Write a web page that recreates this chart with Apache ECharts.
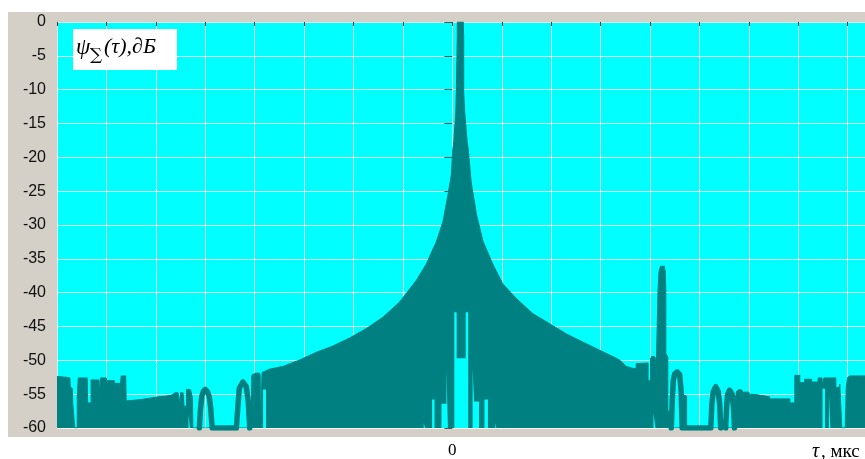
<!DOCTYPE html>
<html>
<head>
<meta charset="utf-8">
<script src="https://cdn.jsdelivr.net/npm/echarts@6/dist/echarts.min.js"></script>
<style>
html,body{margin:0;padding:0;background:#fff;}
#c{width:865px;height:459px;}
</style>
</head>
<body>
<div id="c"></div>
<script>
// ---- data (x in grid units, y in dB) ----
var yTicks = [0, -5, -10, -15, -20, -25, -30, -35, -40, -45, -50, -55, -60];
var xLabelZero = '0';
var yTitle = 'ψ';
var ySub = '∑';
var yTitleRest = '(τ),∂Б';
var xTitleSym = 'τ';
var xTitleRest = ', мкс';

// upper envelope of the dense response (teal fill)
var envelope = [
  [-8.00,-52.4],[-7.81,-52.5],[-7.74,-52.6],[-7.73,-53.9],[-7.69,-54.2],[-7.68,-56.5],[-7.64,-56.5],[-7.64,-60],[-7.59,-60],
  [-7.59,-55.3],[-7.57,-55.3],[-7.57,-52.6],[-7.39,-52.6],[-7.38,-56.3],[-7.31,-56.3],[-7.31,-52.9],[-7.15,-52.9],[-7.15,-55.3],
  [-7.12,-55.3],[-7.12,-52.6],[-7.00,-52.6],[-7.00,-54.0],[-6.98,-54.0],[-6.98,-53.0],[-6.84,-53.0],[-6.84,-53.4],[-6.73,-53.4],
  [-6.73,-55.0],[-6.70,-55.0],[-6.70,-52.3],[-6.61,-52.3],[-6.60,-56.0],[-6.45,-55.9],[-6.30,-55.8],[-6.13,-55.6],[-5.95,-55.4],
  [-5.80,-55.3],[-5.66,-55.1],[-5.62,-54.8],[-5.55,-54.8],[-5.52,-56.5],[-5.50,-54.8],[-5.45,-54.8],[-5.43,-56.8],[-5.38,-56.8],
  [-5.38,-54.3],[-5.30,-54.3],[-5.26,-55.5],[-5.25,-60],[-4.07,-60],
  [-4.06,-52.3],[-4.03,-52.0],[-4.02,-52.4],[-4.02,-60],[-4.00,-60],[-4.00,-51.9],[-3.90,-51.9],[-3.89,-52.2],[-3.88,-60],
  [-3.85,-60],[-3.85,-51.8],[-3.83,-51.7],[-3.70,-51.3],[-3.43,-50.9],[-3.09,-49.95],[-2.75,-48.8],[-2.42,-47.9],[-2.08,-46.7],
  [-1.74,-45.3],[-1.40,-43.6],[-1.07,-41.4],[-0.73,-38.2],[-0.53,-35.8],[-0.32,-32.4],[-0.19,-29.5],[-0.09,-25.6],[-0.02,-22.6],
  [0.01,-18.7],[0.03,-17.7],[0.07,-13.3],[0.08,-10.4],[0.10,-2.2],[0.10,0],[0.22,0],[0.23,-2.2],[0.23,-10.4],[0.25,-13.3],
  [0.30,-17.7],[0.32,-18.7],[0.38,-23.6],[0.49,-28.5],[0.62,-32.4],[0.82,-35.8],[1.02,-38.7],[1.30,-40.9],[1.63,-43.1],
  [1.97,-44.6],[2.31,-46.1],[2.64,-47.3],[2.98,-48.5],[3.32,-49.7],[3.39,-50.0],[3.52,-50.9],[3.66,-51.2],[3.72,-51.2],
  [3.72,-50.5],[3.96,-50.4],[3.96,-53.0],[4.01,-53.0],[4.01,-49.7],[4.04,-49.4],[4.10,-49.5],[4.12,-50.5],[4.12,-53.5],
  [4.16,-53.5],[4.16,-40.0],[4.18,-37.0],[4.21,-36.1],[4.25,-36.0],[4.29,-36.1],[4.31,-37.0],[4.32,-40.0],[4.32,-49.0],
  [4.36,-49.5],[4.36,-57.5],[4.43,-57.5],[4.43,-60],[4.65,-60],[4.65,-55.0],[4.74,-55.3],[4.74,-60],[5.72,-60],
  [5.73,-55.5],[5.75,-54.6],[5.80,-54.3],[5.86,-54.4],[5.88,-54.8],[5.88,-56.0],[5.89,-56.0],[5.89,-54.7],[6.00,-54.7],
  [6.02,-55.1],[6.02,-56.0],[6.04,-56.0],[6.04,-55.0],[6.18,-55.1],[6.20,-55.3],[6.42,-55.4],[6.42,-55.7],[6.83,-55.7],
  [6.83,-56.3],[6.93,-56.3],[6.93,-52.2],[7.03,-52.2],[7.03,-53.3],[7.13,-53.3],[7.13,-52.8],[7.27,-52.8],[7.27,-53.2],
  [7.40,-53.2],[7.40,-52.6],[7.48,-52.6],[7.48,-53.5],[7.52,-53.5],[7.52,-52.6],[7.76,-52.6],[7.76,-54.0],[7.84,-54.0],
  [7.84,-53.5],[7.88,-53.5],[7.88,-60],[7.95,-60],[7.97,-54.0],[8.00,-52.5],[8.05,-52.3],[8.35,-52.3]
];

// openings inside the fill (tops of the gaps, from the floor)
var gaps = [
  [-8.00,-60],
  [-5.34,-60],[-5.34,-58.0],[-5.31,-58.0],[-5.31,-60],
  [-3.83,-60],[-3.83,-54.3],[-3.77,-54.3],[-3.77,-60],
  [-0.58,-60],[-0.58,-59.3],[-0.55,-59.3],[-0.55,-60],
  [-0.41,-60],[-0.41,-55.8],[-0.36,-55.8],[-0.36,-60],
  [-0.22,-60],[-0.22,-56.4],[-0.12,-56.4],[-0.12,-51.4],[-0.09,-51.4],[-0.09,-60],
  [0.04,-60],[0.04,-42.9],[0.087,-42.9],[0.087,-49.7],[0.27,-49.7],[0.27,-42.9],[0.32,-42.9],[0.32,-60],
  [0.41,-60],[0.41,-51.2],[0.44,-51.2],[0.44,-56.1],[0.54,-56.1],[0.54,-60],
  [0.65,-60],[0.65,-55.8],[0.72,-55.8],[0.72,-60],
  [0.87,-60],[0.87,-59.3],[0.89,-59.3],[0.89,-60],
  [4.07,-60],[4.07,-57.8],[4.11,-57.8],[4.11,-60],
  [7.49,-60],[7.49,-54.2],[7.54,-54.2],[7.54,-60],
  [7.62,-60],[7.62,-55.0],[7.65,-55.0],[7.65,-60],
  [8.35,-60]
];

// isolated lobes drawn as thick strokes
var lobes = [
  [-5.12,-60],[-5.10,-57.5],[-5.07,-55.3],[-5.04,-54.6],[-5.00,-54.3],[-4.96,-54.6],[-4.92,-55.3],[-4.89,-57.0],[-4.86,-60],
  [-4.37,-60],[-4.34,-56.8],[-4.31,-54.1],[-4.24,-53.2],[-4.17,-53.9],[-4.13,-56.1],[-4.10,-60],
  null,
  [4.43,-60],[4.45,-56.0],[4.47,-53.0],[4.50,-52.0],[4.55,-51.7],[4.60,-52.1],[4.63,-54.6],[4.65,-60],
  [5.23,-60],[5.25,-56.5],[5.28,-54.6],[5.33,-53.9],[5.38,-54.6],[5.41,-56.5],[5.43,-60],
  null,
  [5.53,-60],[5.55,-57.0],[5.57,-55.0],[5.61,-54.4],[5.66,-55.0],[5.69,-57.0],[5.71,-60]
];

var TEAL = '#008080';
var CYAN = '#00FFFF';

var chart = echarts.init(document.getElementById('c'), null, {renderer: 'canvas'});
chart.setOption({
  animation: false,
  backgroundColor: '#ffffff',
  grid: {left: 57, right: 0, top: 22, bottom: 27, show: true, backgroundColor: CYAN, borderWidth: 0},
  xAxis: {
    type: 'value', min: -8, max: 8.35, interval: 1,
    axisLine: {show: false},
    axisTick: {show: true, length: 4, lineStyle: {color: '#333', width: 1}},
    axisLabel: {
      margin: 14, color: '#000', fontFamily: 'Liberation Serif', fontSize: 17, showMaxLabel: false,
      formatter: function (v) { return Math.abs(v) < 1e-9 ? xLabelZero : ''; }
    },
    splitLine: {show: true, lineStyle: {color: 'rgba(255,255,255,0.85)', width: 1}}
  },
  yAxis: {
    type: 'value', min: -60, max: 0, interval: 5,
    axisLine: {show: false},
    axisTick: {show: true, length: 8, inside: false, lineStyle: {color: '#555', width: 1}},
    axisLabel: {
      margin: 11, color: '#111', fontFamily: 'Liberation Sans', fontSize: 16,
      formatter: function (v) { return yTicks.indexOf(v) >= 0 ? String(v) : ''; }
    },
    splitLine: {show: true, lineStyle: {color: 'rgba(255,255,255,0.85)', width: 1}}
  },
  graphic: [
    {type: 'rect', z: -10, silent: true, shape: {x: 8, y: 12, width: 857, height: 425}, style: {fill: '#D4D0C8'}},
    {type: 'rect', z: 100, shape: {x: 73, y: 29, width: 104, height: 41}, style: {fill: '#ffffff'}},
    {type: 'text', z: 101, x: 76, y: 48, style: {text: yTitle, font: 'italic 23px "Liberation Serif"', fill: '#000', verticalAlign: 'middle'}},
    {type: 'text', z: 101, x: 90, y: 56, style: {text: ySub, font: '17px "DejaVu Serif"', fill: '#000', verticalAlign: 'middle'}},
    {type: 'text', z: 101, x: 104, y: 47, style: {text: yTitleRest, font: 'italic 22px "Liberation Serif"', fill: '#000', verticalAlign: 'middle'}},
    {type: 'text', z: 101, x: 812, y: 452, style: {text: xTitleSym, font: 'italic 20px "Liberation Serif"', fill: '#000', verticalAlign: 'middle'}},
    {type: 'text', z: 101, x: 821, y: 452, style: {text: xTitleRest, font: '19px "Liberation Serif"', fill: '#000', verticalAlign: 'middle'}}
  ],
  series: [
    {
      type: 'line', data: envelope, showSymbol: false, z: 2,
      lineStyle: {color: TEAL, width: 1},
      areaStyle: {color: TEAL, opacity: 1, origin: 'start'}
    },
    {
      type: 'line', data: gaps, showSymbol: false, z: 3,
      lineStyle: {width: 0, opacity: 0},
      areaStyle: {color: CYAN, opacity: 1, origin: 'start'}
    },
    {
      type: 'line', data: lobes, showSymbol: false, z: 4, connectNulls: false,
      lineStyle: {color: TEAL, width: 5.5, join: 'round', cap: 'round'}
    }
  ]
});
</script>
</body>
</html>
